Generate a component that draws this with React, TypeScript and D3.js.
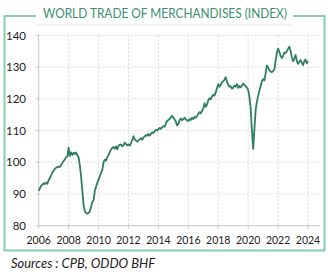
import React from "react";
import * as d3 from "d3";

const startYear = 2006;
const values2006 = [91.0, 91.8, 92.6, 92.9, 93.4, 93.1, 93.6, 93.2, 94.4, 95.0, 95.9, 96.8];
const values2007 = [97.4, 97.9, 98.3, 98.5, 98.6, 98.5, 99.1, 99.8, 100.4, 100.9, 101.6, 101.8];
const values2008 = [104.6, 102.0, 103.1, 102.3, 103.0, 102.6, 103.1, 102.2, 101.5, 99.0, 95.5, 91.0];
const values2009 = [86.5, 84.5, 84.0, 83.8, 84.0, 84.5, 86.0, 87.5, 88.0, 91.0, 92.3, 93.5];
const values2010 = [94.5, 95.5, 96.7, 97.5, 100.0, 100.8, 100.5, 101.6, 102.3, 103.2, 104.0, 104.5];
const values2011 = [104.8, 104.3, 105.0, 104.0, 105.2, 105.5, 105.6, 105.0, 105.3, 106.2, 105.8, 105.3];
const values2012 = [105.6, 105.2, 106.0, 107.0, 108.2, 107.2, 106.8, 106.5, 106.9, 107.2, 107.6, 107.1];
const values2013 = [107.8, 108.1, 108.6, 108.3, 108.9, 108.4, 108.9, 109.4, 109.2, 109.8, 110.2, 110.0];
const values2014 = [110.4, 110.8, 110.5, 111.0, 111.4, 111.2, 112.2, 113.0, 113.3, 113.6, 114.2, 114.6];
const values2015 = [114.0, 113.5, 112.8, 111.6, 112.0, 113.2, 113.8, 113.2, 113.6, 114.0, 113.5, 113.2];
const values2016 = [113.0, 113.6, 113.3, 114.0, 113.6, 114.3, 114.0, 114.6, 115.2, 115.8, 115.4, 116.2];
const values2017 = [117.0, 118.6, 117.5, 118.2, 119.5, 120.2, 119.8, 120.8, 121.2, 121.0, 122.0, 123.4];
const values2018 = [124.6, 123.8, 124.5, 125.2, 125.5, 126.0, 126.8, 125.4, 124.4, 123.8, 124.0, 123.2];
const values2019 = [123.5, 124.2, 123.8, 124.6, 123.4, 124.0, 123.6, 124.2, 124.8, 124.3, 124.0, 123.5];
const values2020 = [122.8, 120.5, 117.0, 110.0, 104.2, 110.5, 116.5, 119.0, 121.0, 122.5, 124.0, 125.5];
const values2021 = [126.2, 125.8, 128.0, 130.5, 129.8, 129.0, 128.6, 128.4, 128.8, 129.2, 132.0, 134.5];
const values2022 = [135.8, 134.8, 133.6, 132.8, 133.5, 134.6, 134.4, 135.0, 135.8, 136.4, 135.0, 133.2];
const values2023 = [131.8, 132.6, 133.8, 132.0, 131.0, 131.6, 132.2, 131.4, 130.6, 131.8, 132.4, 131.2];
const values2024 = [131.8];

const yearlyValues = [
  values2006, values2007, values2008, values2009, values2010, values2011,
  values2012, values2013, values2014, values2015, values2016, values2017,
  values2018, values2019, values2020, values2021, values2022, values2023, values2024,
];

const xTicks = [2006, 2008, 2010, 2012, 2014, 2016, 2018, 2020, 2022, 2024];
const yTicks = [80, 90, 100, 110, 120, 130, 140];

const title = "WORLD TRADE OF MERCHANDISES (INDEX)";
const source = "Sources : CPB, ODDO BHF";

const data: { t: number; v: number }[] = [];
yearlyValues.forEach((arr, yi) => {
  arr.forEach((v, mi) => data.push({ t: startYear + yi + mi / 12, v }));
});

export default function App() {
  const W = 328, H = 280;
  const x = d3.scaleLinear().domain([2006, 2024.8]).range([38.7, 320]);
  const y = d3.scaleLinear().domain([80, 140]).range([225.7, 35.3]);
  const line = d3.line<{ t: number; v: number }>().x(d => x(d.t)).y(d => y(d.v));
  const font = "Lato, 'Open Sans', sans-serif";
  const frame = "#86cfae";
  const grid = "#cfcfcf";
  return (
    <svg width={W} height={H} style={{ position: "absolute", left: 0, top: 0 }} fontFamily={font}>
      <rect width={W} height={H} fill="#fff" />
      {/* frame */}
      <path d={`M36,16 H4.5 V250.5 H324.5 V16 H293`} fill="none" stroke={frame} strokeWidth={2} />
      <line x1={36} x2={293} y1={25} y2={25} stroke="#e6e6e6" strokeWidth={1} />
      <text x={165} y={17.5} textAnchor="middle" fontSize={14} fill="#3a8f70" textLength={244} lengthAdjust="spacingAndGlyphs">{title}</text>
      {/* grid */}
      {yTicks.filter(t => t > 80).map(t => (
        <line key={"gy" + t} x1={x(2006)} x2={x(2024.8)} y1={y(t)} y2={y(t)} stroke={grid} strokeDasharray="2,2" strokeWidth={0.8} />
      ))}
      {xTicks.filter(t => t > 2006).map(t => (
        <line key={"gx" + t} x1={x(t)} x2={x(t)} y1={y(140)} y2={y(80)} stroke={grid} strokeDasharray="2,2" strokeWidth={0.8} />
      ))}
      {/* axes */}
      <line x1={x(2006)} x2={x(2006)} y1={y(140)} y2={y(80)} stroke="#c8c8c8" strokeWidth={1} />
      <line x1={x(2006)} x2={x(2024.8)} y1={y(80)} y2={y(80)} stroke="#c8c8c8" strokeWidth={1} />
      {yTicks.map(t => (
        <g key={"yt" + t}>
          <line x1={x(2006) - 3} x2={x(2006)} y1={y(t)} y2={y(t)} stroke="#c8c8c8" />
          <text x={26} y={y(t) + 4.2} textAnchor="end" fontSize={11.5} fill="#222">{t}</text>
        </g>
      ))}
      {xTicks.map(t => (
        <g key={"xt" + t}>
          <line x1={x(t)} x2={x(t)} y1={y(80)} y2={y(80) + 3} stroke="#c8c8c8" />
          <text x={x(t)} y={244} textAnchor="middle" fontSize={10.5} fill="#222">{t}</text>
        </g>
      ))}
      <path d={line(data) || ""} fill="none" stroke="#2e7f5e" strokeWidth={1.8} strokeLinejoin="round" />
      <text x={11} y={268} fontSize={13} fontStyle="italic" fill="#222" textLength={144} lengthAdjust="spacingAndGlyphs">{source}</text>
    </svg>
  );
}
